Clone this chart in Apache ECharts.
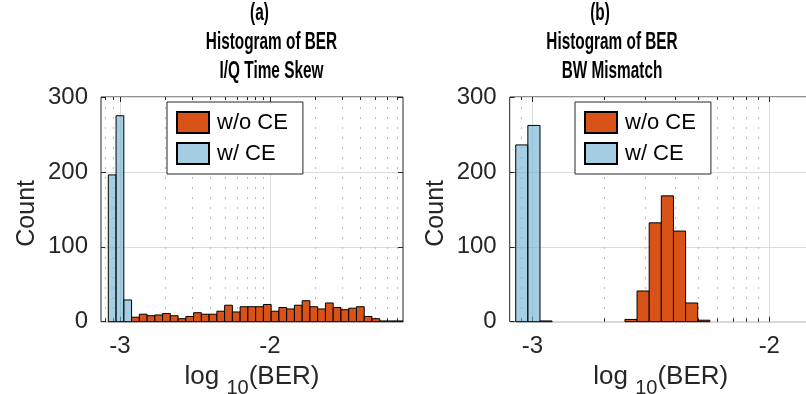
<!DOCTYPE html>
<html>
<head>
<meta charset="utf-8">
<script src="https://cdn.jsdelivr.net/npm/echarts@6/dist/echarts.min.js"></script>
<style>
  html, body { margin: 0; padding: 0; background: #ffffff; }
  #chart { width: 806px; height: 394px; }
</style>
</head>
<body>
<div id="chart"></div>
<script>
// Panel (a): I/Q time skew, histogram of log10(BER)
const binStartA = -3.078;
const binWidthA = 0.0517;
const woCE_A = [0, 0, 0, 6, 10, 8, 9, 11, 8, 4, 7, 12, 10,
                10, 14, 22, 13, 20, 20, 20, 23, 14, 19,
                17, 22, 28, 20, 17, 25, 19, 16, 18, 20,
                7, 4, 1, 1, 1];
const wCE_A = [196, 275, 29];
const xRangeA = [-3.1267, -1.1133];

// Panel (b): BW mismatch, histogram of log10(BER)
const binStartB = -3.070;
const binWidthB = 0.0512;
const woCE_B = [0, 0, 0, 0, 0, 0, 0, 0, 0, 3, 41, 132, 168, 121, 25, 2];
const wCE_B = [236, 262, 1];
const xRangeB = [-3.0954, -1.8211];

// Axes and labels
const xTickValues = [-3, -2];
const yRange = [0, 300];
const yInterval = 100;
const seriesNames = ['w/o CE', 'w/ CE'];
const titlesA = ['(a)', 'Histogram of BER', 'I/Q Time Skew'];
const titlesB = ['(b)', 'Histogram of BER', 'BW Mismatch'];
const yName = 'Count';

const FONT = '"Liberation Sans", Arial, Helvetica, sans-serif';
const AXIS_COLOR = '#262626';
const ORANGE = '#d95319';
const LIGHT_BLUE = 'rgba(107,173,208,0.6)';

function binsToData(start, width, counts) {
  const out = [];
  counts.forEach((c, i) => {
    if (c > 0) out.push([start + i * width, start + (i + 1) * width, c]);
  });
  return out;
}

// Major grid at integer decades, dotted minor grid at log10(k) steps
function guideData(range) {
  const out = [];
  for (let d = Math.floor(range[0]) - 1; d <= Math.ceil(range[1]); d++) {
    if (d > range[0] && d < range[1]) out.push([d, 1]);
    for (let k = 2; k <= 9; k++) {
      const v = d + Math.log10(k);
      if (v > range[0] && v < range[1]) out.push([v, 0]);
    }
  }
  return out;
}

function renderBin(params, api) {
  const p0 = api.coord([api.value(0), api.value(2)]);
  const p1 = api.coord([api.value(1), 0]);
  return {
    type: 'rect',
    shape: { x: p0[0], y: p0[1], width: p1[0] - p0[0], height: p1[1] - p0[1] },
    style: api.style()
  };
}

function renderGuide(params, api) {
  const v = api.value(0);
  const major = api.value(1) === 1;
  const top = api.coord([v, yRange[1]]);
  const bot = api.coord([v, yRange[0]]);
  const x = Math.round(top[0]) + 0.5;
  const len = major ? 5 : 3;
  return {
    type: 'group',
    children: [
      { type: 'line', shape: { x1: x, y1: top[1], x2: x, y2: bot[1] },
        style: { stroke: major ? '#dcdcdc' : '#bcbcbc', lineWidth: 1, lineDash: major ? null : [2, 8] } },
      { type: 'line', shape: { x1: x, y1: bot[1], x2: x, y2: bot[1] - len },
        style: { stroke: AXIS_COLOR, lineWidth: 1 } },
      { type: 'line', shape: { x1: x, y1: top[1], x2: x, y2: top[1] + len },
        style: { stroke: AXIS_COLOR, lineWidth: 1 } }
    ]
  };
}

function makeGrid(left) {
  return { left: left, top: 97, width: 302, height: 224.7, show: true,
           outerBoundsMode: 'none', containLabel: false,
           borderColor: AXIS_COLOR, borderWidth: 1, backgroundColor: '#ffffff' };
}

function makeXAxis(gridIndex, range) {
  return {
    type: 'value', gridIndex: gridIndex, min: range[0], max: range[1],
    position: 'bottom',
    axisLine: { show: false },
    axisTick: { show: false },
    splitLine: { show: false },
    axisLabel: { customValues: xTickValues, fontSize: 24, color: AXIS_COLOR, fontFamily: FONT, margin: 13 },
    name: '{m|log }{s|10}{m|(BER)}',
    nameLocation: 'middle',
    nameGap: 32,
    nameTextStyle: {
      rich: {
        m: { fontSize: 26, color: AXIS_COLOR, fontFamily: FONT },
        s: { fontSize: 20, color: AXIS_COLOR, fontFamily: FONT, padding: [24, 0, 0, 0] }
      }
    }
  };
}

function makeYAxes(gridIndex) {
  const common = {
    type: 'value', gridIndex: gridIndex, min: yRange[0], max: yRange[1], interval: yInterval,
    axisLine: { show: false }
  };
  return [
    Object.assign({}, common, {
      position: 'left',
      axisTick: { show: true, inside: true, length: 5, lineStyle: { color: AXIS_COLOR } },
      axisLabel: { fontSize: 24, color: AXIS_COLOR, fontFamily: FONT, margin: 13 },
      splitLine: { show: true, lineStyle: { color: '#dcdcdc', width: 1 } },
      name: yName, nameLocation: 'middle', nameGap: 61,
      nameTextStyle: { fontSize: 25, color: AXIS_COLOR, fontFamily: FONT, padding: [0, 8, 0, 0] }
    }),
    Object.assign({}, common, {
      position: 'right',
      axisTick: { show: true, inside: true, length: 5, lineStyle: { color: AXIS_COLOR } },
      axisLabel: { show: false },
      splitLine: { show: false }
    })
  ];
}

function makeLegend(left) {
  return {
    left: left, top: 102, orient: 'vertical', icon: 'rect',
    itemWidth: 32, itemHeight: 21, itemGap: 8,
    padding: [9, 15, 9, 9],
    borderColor: AXIS_COLOR, borderWidth: 1, borderRadius: 0, backgroundColor: '#ffffff',
    selectedMode: false,
    textStyle: { fontSize: 22, color: '#000000', fontFamily: FONT, padding: [0, 0, 0, 3] },
    data: seriesNames
  };
}

function makeTitle(lines, cx) {
  const ys = [13, 42, 71];
  const dx = [-12, 0, 0];
  return lines.map((t, i) => ({
    type: 'text', x: cx + dx[i], y: ys[i], scaleX: 0.64,
    style: { text: t, font: 'bold 24px ' + FONT, fill: '#000000', textAlign: 'center', textVerticalAlign: 'middle' }
  }));
}

function panelSeries(gi, range, start, width, woCE, wCE) {
  return [
    { type: 'custom', name: 'guides' + gi, xAxisIndex: gi, yAxisIndex: gi * 2, z: 1, silent: true,
      renderItem: renderGuide, data: guideData(range), encode: { x: 0 } },
    { type: 'custom', name: seriesNames[0], xAxisIndex: gi, yAxisIndex: gi * 2, z: 2,
      renderItem: renderBin, encode: { x: [0, 1], y: 2 },
      itemStyle: { color: ORANGE, borderColor: '#000000', borderWidth: 1 },
      data: binsToData(start, width, woCE) },
    { type: 'custom', name: seriesNames[1], xAxisIndex: gi, yAxisIndex: gi * 2, z: 3,
      renderItem: renderBin, encode: { x: [0, 1], y: 2 },
      itemStyle: { color: LIGHT_BLUE, borderColor: '#000000', borderWidth: 1 },
      data: binsToData(start, width, wCE) }
  ];
}

const chart = echarts.init(document.getElementById('chart'), null, { renderer: 'canvas' });
chart.setOption({
  animation: false,
  backgroundColor: '#ffffff',
  grid: [makeGrid(101), makeGrid(509.7)],
  xAxis: [makeXAxis(0, xRangeA), makeXAxis(1, xRangeB)],
  yAxis: makeYAxes(0).concat(makeYAxes(1)),
  legend: [makeLegend(167), makeLegend(575)],
  graphic: makeTitle(titlesA, 271.5).concat(makeTitle(titlesB, 612)),
  series: panelSeries(0, xRangeA, binStartA, binWidthA, woCE_A, wCE_A)
    .concat(panelSeries(1, xRangeB, binStartB, binWidthB, woCE_B, wCE_B))
});
</script>
</body>
</html>
